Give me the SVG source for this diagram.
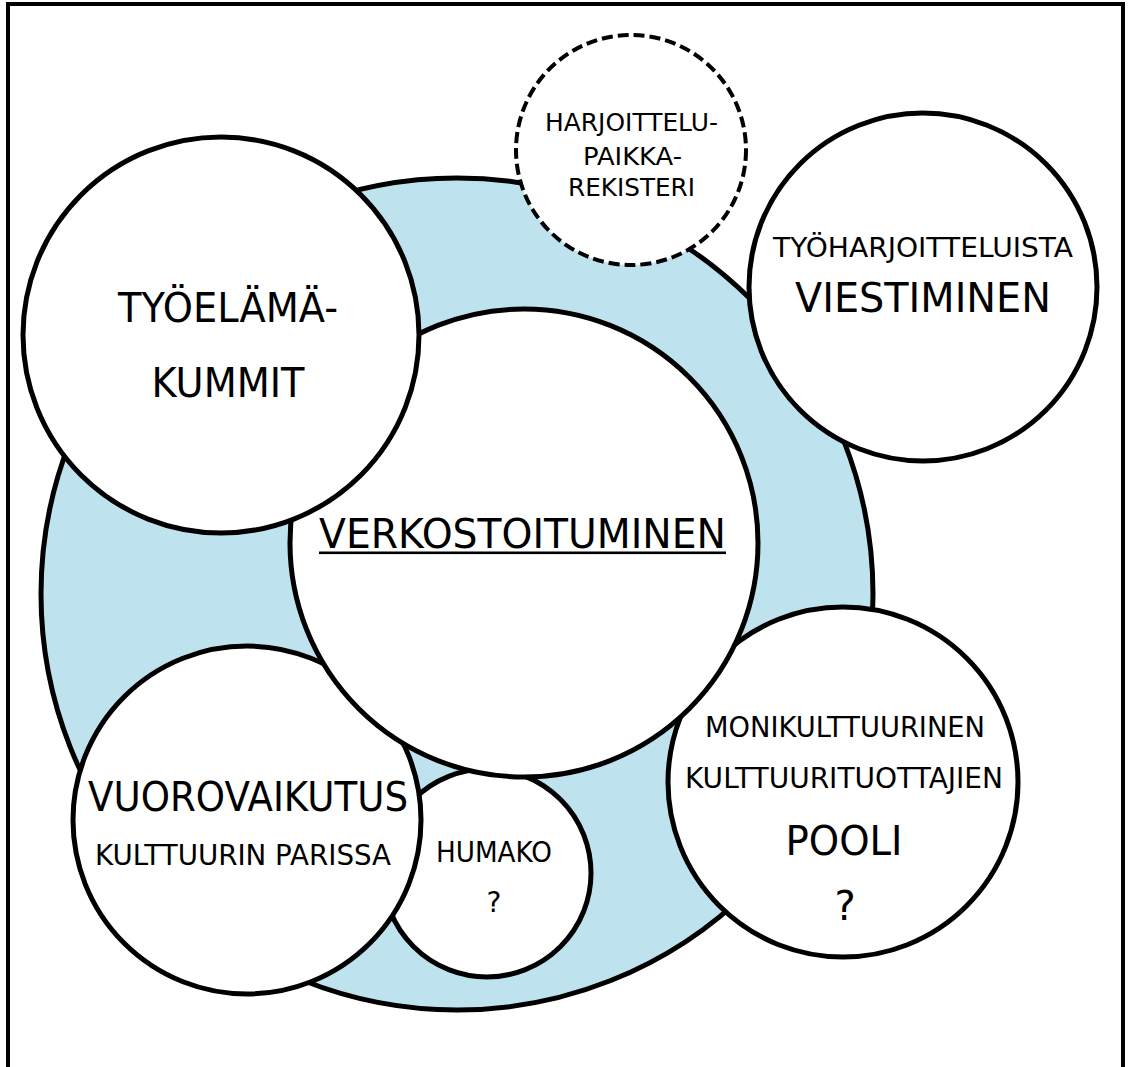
<svg xmlns="http://www.w3.org/2000/svg" width="1130" height="1067" viewBox="0 0 1130 1067">
<style>
.c{fill:#ffffff;stroke:#000;stroke-width:5}
.d{fill:#ffffff;stroke:#000;stroke-width:4;stroke-dasharray:11 5}
.t{font-family:"DejaVu Sans","Liberation Sans",sans-serif;fill:#000;text-anchor:middle}
</style>
<rect x="0" y="0" width="1130" height="1067" fill="#ffffff"/>
<rect id="frame" x="8" y="4" width="1115" height="1100" fill="none" stroke="#000" stroke-width="4"/>
<g id="ring">
<circle cx="457" cy="594" r="416" fill="#BFE3EE" stroke="#000" stroke-width="5"/>
</g>
<g id="humako">
<circle class="c" cx="487" cy="873" r="104"/>
<text class="t" x="494" y="862" font-size="29" textLength="116" lengthAdjust="spacingAndGlyphs">HUMAKO</text>
<text class="t" x="494" y="912" font-size="28">?</text>
</g>
<g id="vuorovaikutus">
<circle class="c" cx="247" cy="820" r="174"/>
<text class="t" x="248" y="811" font-size="40" textLength="320" lengthAdjust="spacingAndGlyphs">VUOROVAIKUTUS</text>
<text class="t" x="243" y="865" font-size="28" textLength="296" lengthAdjust="spacingAndGlyphs">KULTTUURIN PARISSA</text>
</g>
<g id="monikulttuurinen">
<circle class="c" cx="843" cy="782" r="175"/>
<text class="t" x="845" y="737" font-size="28" textLength="280" lengthAdjust="spacingAndGlyphs">MONIKULTTUURINEN</text>
<text class="t" x="844" y="788" font-size="28" textLength="318" lengthAdjust="spacingAndGlyphs">KULTTUURITUOTTAJIEN</text>
<text class="t" x="844" y="855" font-size="41" textLength="117" lengthAdjust="spacingAndGlyphs">POOLI</text>
<text class="t" x="845" y="920" font-size="40">?</text>
</g>
<g id="verkostoituminen">
<circle class="c" cx="524" cy="543" r="234"/>
<text class="t" x="522.5" y="548" font-size="40" textLength="407" lengthAdjust="spacingAndGlyphs">VERKOSTOITUMINEN</text>
<rect x="319" y="551.5" width="407" height="2.6" fill="#000"/>
</g>
<g id="tyoelamakummit">
<circle class="c" cx="221" cy="335" r="198"/>
<text class="t" x="228" y="322" font-size="41" textLength="220" lengthAdjust="spacingAndGlyphs">TYÖELÄMÄ-</text>
<text class="t" x="228" y="397" font-size="41" textLength="153" lengthAdjust="spacingAndGlyphs">KUMMIT</text>
</g>
<g id="harjoittelupaikkarekisteri">
<circle class="d" cx="631" cy="150" r="115"/>
<text class="t" x="631.5" y="131" font-size="25" textLength="173" lengthAdjust="spacingAndGlyphs">HARJOITTELU-</text>
<text class="t" x="632.5" y="165" font-size="25" textLength="99" lengthAdjust="spacingAndGlyphs">PAIKKA-</text>
<text class="t" x="631.5" y="196" font-size="25" textLength="127" lengthAdjust="spacingAndGlyphs">REKISTERI</text>
</g>
<g id="viestiminen">
<circle class="c" cx="923" cy="287" r="174"/>
<text class="t" x="923" y="257" font-size="27" textLength="300" lengthAdjust="spacingAndGlyphs">TYÖHARJOITTELUISTA</text>
<text class="t" x="923" y="312" font-size="41" textLength="256" lengthAdjust="spacingAndGlyphs">VIESTIMINEN</text>
</g>
<g id="connectors"></g>
</svg>
